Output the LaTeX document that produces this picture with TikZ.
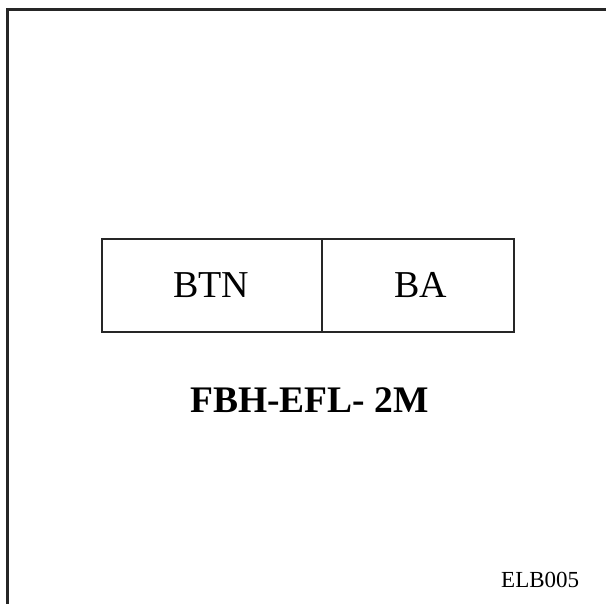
\documentclass[tikz,border=0pt]{standalone}
\usepackage{fontspec}
\setmainfont{Liberation Serif}
\begin{document}
\begin{tikzpicture}[x=1pt,y=-1pt,
  cell/.style={draw=black!85,line width=2.5pt,rectangle,minimum height=93pt,inner sep=0pt},
  celltext/.style={font=\fontsize{38}{42}\selectfont,anchor=base,inner sep=0pt},
  frame/.style={draw=black!85,line width=3pt}]
\useasboundingbox (0,0) rectangle (606,604);
\coordinate (tl) at (7,10);
\coordinate (tr) at (606,10);
\coordinate (bl) at (7,604);
\draw[frame] (tr) -- (tl) -- (bl);
\node[cell,minimum width=220pt] (btn) at (212,285.5) {};
\node[cell,minimum width=192pt] (ba) at (418,285.5) {};
\node[celltext] (btnt) at (211,298) {BTN};
\node[celltext] (bat) at (421,298) {BA};
\node[font=\fontsize{37.5}{40}\selectfont\bfseries,anchor=base,inner sep=0pt] (model) at (309.5,413) {FBH-EFL- 2M};
\node[font=\fontsize{23}{26}\selectfont,anchor=base west,inner sep=0pt] (code) at (501,587) {ELB005};
\end{tikzpicture}
\end{document}
